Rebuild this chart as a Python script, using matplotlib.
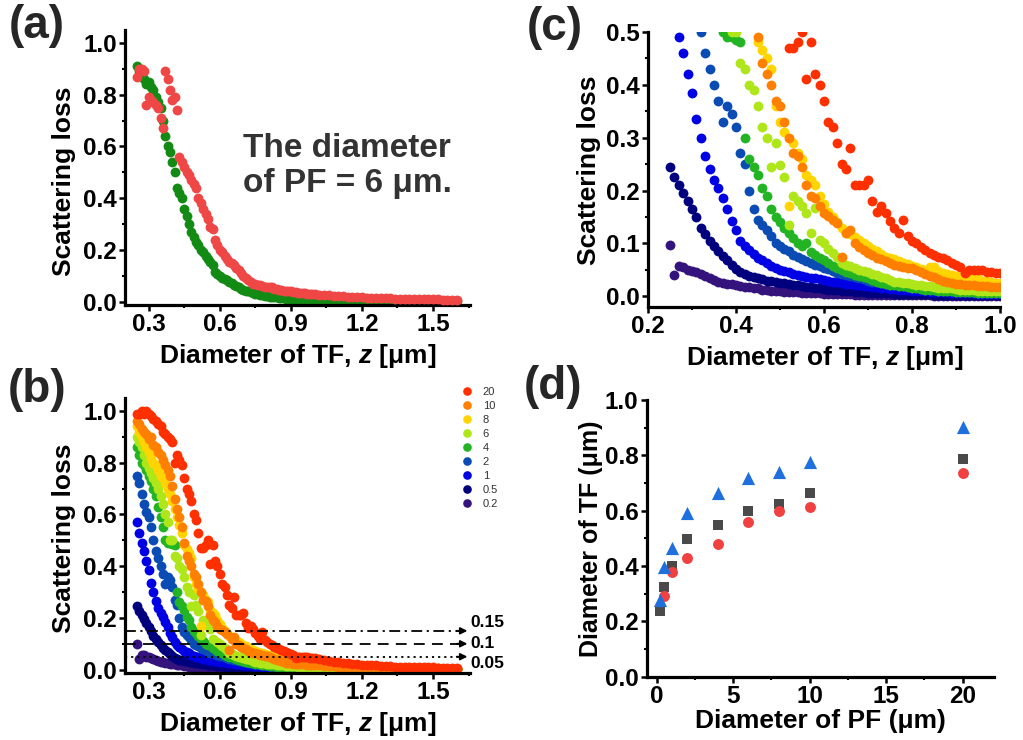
import matplotlib
matplotlib.use('Agg')
import matplotlib.pyplot as plt
from matplotlib.ticker import MultipleLocator
from matplotlib.lines import Line2D

plt.rcParams['font.family'] = ['Liberation Sans', 'DejaVu Sans']
plt.rcParams['font.weight'] = 'bold'
plt.rcParams['mathtext.fontset'] = 'custom'
plt.rcParams['mathtext.it'] = 'Liberation Sans:italic'
plt.rcParams['mathtext.rm'] = 'Liberation Sans:bold'
plt.rcParams['mathtext.bf'] = 'Liberation Sans:bold'

# ---------------- data ----------------
# diameter of TF, z [um]
X = [0.25, 0.26, 0.27, 0.28, 0.29, 0.30, 0.31, 0.32, 0.33, 0.34,
     0.35, 0.36, 0.37, 0.38, 0.39, 0.40, 0.41, 0.42, 0.43, 0.44,
     0.45, 0.46, 0.47, 0.48, 0.49, 0.50, 0.51, 0.52, 0.53, 0.54,
     0.55, 0.56, 0.57, 0.58, 0.59, 0.60, 0.61, 0.62, 0.63, 0.64,
     0.65, 0.66, 0.67, 0.68, 0.69, 0.70, 0.71, 0.72, 0.73, 0.74,
     0.75, 0.76, 0.77, 0.78, 0.79, 0.80, 0.81, 0.82, 0.83, 0.84,
     0.85, 0.86, 0.87, 0.88, 0.89, 0.90, 0.91, 0.92, 0.93, 0.94,
     0.95, 0.96, 0.97, 0.98, 0.99, 1.00,
     1.02, 1.04, 1.06, 1.08, 1.10, 1.12, 1.14, 1.16, 1.18, 1.20,
     1.22, 1.24, 1.26, 1.28, 1.30, 1.32, 1.34, 1.36, 1.38, 1.40,
     1.42, 1.44, 1.46, 1.48, 1.50, 1.52, 1.54, 1.56, 1.58, 1.60]

# panel (a): PF = 6 um, two curves
A_GREEN = [0.91, 0.89, 0.88, 0.86, 0.84, 0.85, 0.83, 0.82, 0.79, 0.77,
           0.75, 0.70, 0.64, 0.60, 0.58, 0.54, 0.50, 0.44, 0.42, 0.40,
           0.36, 0.33, 0.30, 0.27, 0.25, 0.23, 0.22, 0.20, 0.19, 0.175,
           0.165, 0.155, 0.14, 0.115, 0.105, 0.100, 0.093, 0.088, 0.082, 0.076,
           0.071, 0.065, 0.060, 0.055, 0.050, 0.046, 0.043, 0.040, 0.036, 0.033,
           0.030, 0.028, 0.026, 0.024, 0.022, 0.020, 0.019, 0.018, 0.017, 0.016,
           0.015, 0.014, 0.013, 0.012, 0.011, 0.010, 0.010, 0.009, 0.009, 0.008,
           0.008, 0.007, 0.007, 0.007, 0.006, 0.006,
           0.006, 0.005, 0.005, 0.005, 0.004, 0.004, 0.004, 0.004, 0.003, 0.003,
           0.003, 0.003, 0.003, 0.003, 0.003, 0.002, 0.002, 0.002, 0.002, 0.002,
           0.002, 0.002, 0.002, 0.002, 0.002, 0.001, 0.001, 0.001, 0.001, 0.001]
A_RED = [0.87, 0.90, 0.90, 0.89, 0.76, 0.79, 0.78, 0.77, 0.76, 0.75,
         0.71, 0.67, 0.89, 0.86, 0.82, 0.78, 0.79, 0.74, 0.56, 0.54,
         0.52, 0.50, 0.49, 0.47, 0.455, 0.44, 0.40, 0.38, 0.36, 0.34,
         0.32, 0.29, 0.28, 0.24, 0.22, 0.20, 0.19, 0.175, 0.165, 0.155,
         0.15, 0.14, 0.13, 0.123, 0.11, 0.10, 0.09, 0.085, 0.075, 0.07,
         0.068, 0.065, 0.063, 0.060, 0.058, 0.056, 0.055, 0.055, 0.050, 0.048,
         0.046, 0.045, 0.043, 0.042, 0.041, 0.040, 0.038, 0.036, 0.034, 0.033,
         0.032, 0.032, 0.031, 0.030, 0.029, 0.028,
         0.026, 0.025, 0.024, 0.022, 0.021, 0.020, 0.019, 0.018, 0.017, 0.016,
         0.015, 0.015, 0.014, 0.014, 0.013, 0.013, 0.012, 0.012, 0.011, 0.011,
         0.010, 0.010, 0.010, 0.009, 0.009, 0.009, 0.008, 0.008, 0.008, 0.008]

# panels (b), (c): one curve per PF diameter
Y20 = [0.99, 0.99, 1.00, 0.99, 1.00, 0.99, 0.98, 0.97, 0.96, 0.95,
       0.94, 0.92, 0.91, 0.90, 0.89, 0.88, 0.80, 0.83, 0.81, 0.79,
       0.74, 0.70, 0.68, 0.65, 0.60, 0.58, 0.53, 0.47, 0.47, 0.48,
       0.50, 0.41, 0.48, 0.42, 0.40, 0.37, 0.33, 0.32, 0.29, 0.25,
       0.24, 0.28, 0.21, 0.21, 0.21, 0.22, 0.18, 0.16, 0.17, 0.157,
       0.142, 0.13, 0.12, 0.145, 0.115, 0.105, 0.10, 0.094, 0.088, 0.082,
       0.078, 0.075, 0.073, 0.068, 0.063, 0.060, 0.055, 0.044, 0.050, 0.050,
       0.049, 0.050, 0.047, 0.046, 0.045, 0.044,
       0.040, 0.037, 0.034, 0.031, 0.029, 0.027, 0.025, 0.023, 0.021, 0.019,
       0.018, 0.017, 0.016, 0.015, 0.014, 0.013, 0.012, 0.012, 0.011, 0.011,
       0.010, 0.010, 0.009, 0.009, 0.009, 0.008, 0.008, 0.008, 0.007, 0.007]
Y10 = [0.96, 0.95, 0.93, 0.92, 0.91, 0.89, 0.90, 0.87, 0.86, 0.84,
       0.83, 0.81, 0.79, 0.77, 0.75, 0.71, 0.66, 0.62, 0.59, 0.55,
       0.49, 0.44, 0.42, 0.40, 0.37, 0.36, 0.33, 0.30, 0.27, 0.265,
       0.245, 0.21, 0.19, 0.185, 0.17, 0.157, 0.152, 0.145, 0.139, 0.075,
       0.12, 0.126, 0.10, 0.094, 0.088, 0.082, 0.078, 0.072, 0.070, 0.066,
       0.063, 0.060, 0.057, 0.056, 0.054, 0.053, 0.050, 0.046, 0.042, 0.038,
       0.036, 0.033, 0.030, 0.027, 0.025, 0.024, 0.023, 0.022, 0.022, 0.021,
       0.020, 0.020, 0.019, 0.018, 0.018, 0.017,
       0.016, 0.015, 0.014, 0.013, 0.012, 0.011, 0.011, 0.010, 0.010, 0.009,
       0.009, 0.008, 0.008, 0.008, 0.007, 0.007, 0.007, 0.006, 0.006, 0.006,
       0.006, 0.005, 0.005, 0.005, 0.005, 0.005, 0.004, 0.004, 0.004, 0.004]
Y8 = [0.94, 0.92, 0.90, 0.88, 0.86, 0.84, 0.82, 0.80, 0.79, 0.77,
      0.75, 0.74, 0.72, 0.70, 0.68, 0.65, 0.62, 0.59, 0.56, 0.53,
      0.48, 0.465, 0.45, 0.43, 0.36, 0.33, 0.31, 0.17, 0.29, 0.27,
      0.26, 0.23, 0.22, 0.21, 0.19, 0.175, 0.16, 0.15, 0.14, 0.13,
      0.12, 0.117, 0.112, 0.107, 0.100, 0.095, 0.090, 0.085, 0.080, 0.075,
      0.072, 0.070, 0.066, 0.064, 0.062, 0.058, 0.055, 0.052, 0.050, 0.055,
      0.056, 0.048, 0.045, 0.042, 0.040, 0.038, 0.037, 0.036, 0.034, 0.033,
      0.032, 0.030, 0.029, 0.027, 0.026, 0.025,
      0.023, 0.021, 0.019, 0.017, 0.016, 0.015, 0.014, 0.013, 0.012, 0.011,
      0.010, 0.010, 0.009, 0.009, 0.008, 0.008, 0.007, 0.007, 0.007, 0.006,
      0.006, 0.006, 0.005, 0.005, 0.005, 0.005, 0.004, 0.004, 0.004, 0.004]
Y6 = [0.90, 0.88, 0.86, 0.83, 0.80, 0.78, 0.76, 0.74, 0.72, 0.70,
      0.67, 0.64, 0.60, 0.57, 0.50, 0.50, 0.44, 0.43, 0.40, 0.39,
      0.36, 0.32, 0.30, 0.245, 0.29, 0.248, 0.226, 0.135, 0.19, 0.18,
      0.17, 0.157, 0.12, 0.167, 0.107, 0.100, 0.090, 0.082, 0.075, 0.063,
      0.060, 0.057, 0.053, 0.050, 0.048, 0.046, 0.043, 0.040, 0.037, 0.034,
      0.031, 0.028, 0.027, 0.026, 0.025, 0.023, 0.022, 0.021, 0.020, 0.019,
      0.017, 0.016, 0.016, 0.015, 0.015, 0.014, 0.013, 0.013, 0.012, 0.012,
      0.011, 0.011, 0.011, 0.010, 0.010, 0.010,
      0.009, 0.009, 0.008, 0.008, 0.007, 0.007, 0.006, 0.006, 0.006, 0.005,
      0.005, 0.005, 0.004, 0.004, 0.004, 0.004, 0.003, 0.003, 0.003, 0.003,
      0.003, 0.003, 0.002, 0.002, 0.002, 0.002, 0.002, 0.002, 0.002, 0.002]
Y4 = [0.86, 0.83, 0.80, 0.79, 0.77, 0.75, 0.73, 0.70, 0.67, 0.63,
      0.59, 0.55, 0.50, 0.49, 0.49, 0.485, 0.48, 0.30, 0.26, 0.245,
      0.23, 0.205, 0.19, 0.165, 0.15, 0.14, 0.13, 0.12, 0.11, 0.10,
      0.095, 0.10, 0.083, 0.078, 0.072, 0.068, 0.063, 0.058, 0.054, 0.050,
      0.047, 0.044, 0.041, 0.039, 0.037, 0.034, 0.031, 0.028, 0.026, 0.024,
      0.022, 0.021, 0.020, 0.019, 0.018, 0.016, 0.015, 0.014, 0.013, 0.012,
      0.012, 0.011, 0.011, 0.010, 0.010, 0.009, 0.009, 0.008, 0.008, 0.008,
      0.007, 0.007, 0.007, 0.006, 0.006, 0.006,
      0.006, 0.005, 0.005, 0.005, 0.004, 0.004, 0.004, 0.004, 0.003, 0.003,
      0.003, 0.003, 0.003, 0.003, 0.002, 0.002, 0.002, 0.002, 0.002, 0.002,
      0.002, 0.002, 0.002, 0.002, 0.001, 0.001, 0.001, 0.001, 0.001, 0.001]
Y2 = [0.75, 0.72, 0.68, 0.64, 0.61, 0.59, 0.55, 0.50, 0.46, 0.43,
      0.40, 0.37, 0.33, 0.36, 0.345, 0.32, 0.27, 0.25, 0.20, 0.165,
      0.145, 0.135, 0.125, 0.115, 0.100, 0.095, 0.090, 0.085, 0.079, 0.075,
      0.070, 0.066, 0.063, 0.060, 0.057, 0.054, 0.051, 0.048, 0.045, 0.043,
      0.040, 0.038, 0.036, 0.034, 0.032, 0.030, 0.028, 0.027, 0.025, 0.024,
      0.022, 0.021, 0.020, 0.019, 0.018, 0.016, 0.015, 0.014, 0.013, 0.012,
      0.012, 0.011, 0.011, 0.010, 0.010, 0.009, 0.009, 0.008, 0.008, 0.007,
      0.007, 0.007, 0.006, 0.006, 0.006, 0.006,
      0.005, 0.005, 0.005, 0.004, 0.004, 0.004, 0.003, 0.003, 0.003, 0.003,
      0.003, 0.002, 0.002, 0.002, 0.002, 0.002, 0.002, 0.002, 0.001, 0.001,
      0.001, 0.001, 0.001, 0.001, 0.001, 0.001, 0.001, 0.001, 0.001, 0.001]
Y1 = [0.57, 0.53, 0.49, 0.46, 0.42, 0.385, 0.335, 0.30, 0.265, 0.24,
      0.22, 0.205, 0.185, 0.165, 0.142, 0.125, 0.105, 0.095, 0.088, 0.080,
      0.073, 0.068, 0.063, 0.058, 0.054, 0.050, 0.048, 0.046, 0.043, 0.041,
      0.039, 0.037, 0.035, 0.034, 0.032, 0.031, 0.029, 0.028, 0.027, 0.026,
      0.024, 0.023, 0.022, 0.021, 0.020, 0.019, 0.018, 0.017, 0.016, 0.015,
      0.014, 0.014, 0.013, 0.012, 0.012, 0.011, 0.011, 0.010, 0.010, 0.009,
      0.009, 0.008, 0.008, 0.008, 0.007, 0.007, 0.007, 0.006, 0.006, 0.006,
      0.005, 0.005, 0.005, 0.005, 0.004, 0.004,
      0.004, 0.004, 0.003, 0.003, 0.003, 0.003, 0.002, 0.002, 0.002, 0.002,
      0.002, 0.002, 0.002, 0.001, 0.001, 0.001, 0.001, 0.001, 0.001, 0.001,
      0.001, 0.001, 0.001, 0.001, 0.001, 0.001, 0.001, 0.001, 0.001, 0.001]
Y05 = [0.245, 0.225, 0.21, 0.195, 0.18, 0.165, 0.15, 0.13, 0.117, 0.105,
       0.095, 0.085, 0.077, 0.069, 0.060, 0.052, 0.046, 0.042, 0.038, 0.036,
       0.034, 0.032, 0.030, 0.029, 0.027, 0.026, 0.025, 0.023, 0.022, 0.021,
       0.019, 0.018, 0.017, 0.016, 0.015, 0.014, 0.013, 0.012, 0.012, 0.011,
       0.010, 0.010, 0.009, 0.009, 0.008, 0.007, 0.007, 0.007, 0.006, 0.006,
       0.006, 0.005, 0.005, 0.005, 0.005, 0.004, 0.004, 0.004, 0.004, 0.004,
       0.003, 0.003, 0.003, 0.003, 0.003, 0.003, 0.003, 0.003, 0.003, 0.003,
       0.002, 0.002, 0.002, 0.002, 0.002, 0.002,
       0.002, 0.002, 0.002, 0.002, 0.002, 0.002, 0.002, 0.002, 0.002, 0.002,
       0.001, 0.001, 0.001, 0.001, 0.001, 0.001, 0.001, 0.001, 0.001, 0.001,
       0.001, 0.001, 0.001, 0.001, 0.001, 0.001, 0.001, 0.001, 0.001, 0.001]
Y02 = [0.098, 0.041, 0.057, 0.055, 0.050, 0.048, 0.046, 0.042, 0.038, 0.034,
       0.031, 0.028, 0.026, 0.024, 0.023, 0.021, 0.020, 0.018, 0.017, 0.016,
       0.015, 0.013, 0.012, 0.011, 0.011, 0.010, 0.009, 0.009, 0.008, 0.008,
       0.007, 0.007, 0.006, 0.006, 0.006, 0.005, 0.005, 0.005, 0.004, 0.004,
       0.004, 0.004, 0.003, 0.003, 0.003, 0.003, 0.003, 0.003, 0.002, 0.002,
       0.002, 0.002, 0.002, 0.002, 0.002, 0.002, 0.002, 0.002, 0.002, 0.002,
       0.001, 0.001, 0.001, 0.001, 0.001, 0.001, 0.001, 0.001, 0.001, 0.001,
       0.001, 0.001, 0.001, 0.001, 0.001, 0.001,
       0.001, 0.001, 0.001, 0.001, 0.001, 0.001, 0.001, 0.001, 0.001, 0.001,
       0.001, 0.001, 0.001, 0.001, 0.001, 0.001, 0.001, 0.001, 0.001, 0.001,
       0.001, 0.001, 0.001, 0.001, 0.001, 0.001, 0.001, 0.001, 0.001, 0.001]

PF_LABELS = ['0.2', '0.5', '1', '2', '4', '6', '8', '10', '20']
PF_SERIES = [Y02, Y05, Y1, Y2, Y4, Y6, Y8, Y10, Y20]
PF_COLORS = ['#35137d', '#00007f', '#0000e4', '#0a4bb4', '#22b422',
             '#aee61a', '#ffd400', '#ff8000', '#ff3000']

# threshold lines in (b)
THRESH = [0.15, 0.1, 0.05]
THRESH_LABELS = ['0.15', '0.1', '0.05']

# panel (d)
PF_D = [0.2, 0.5, 1, 2, 4, 6, 8, 10, 20]
TF_TRI = [0.277, 0.398, 0.464, 0.590, 0.665, 0.717, 0.741, 0.777, 0.904]
TF_SQ = [0.239, 0.323, 0.400, 0.498, 0.548, 0.599, 0.624, 0.663, 0.787]
PF_CIRC = [0.5, 1, 2, 4, 6, 8, 10, 20]
TF_CIRC = [0.292, 0.380, 0.430, 0.480, 0.560, 0.599, 0.612, 0.737]

# ---------------- figure ----------------
W, H = 1023, 740
fig = plt.figure(figsize=(W / 100, H / 100), dpi=100)


def px_axes(l, t, r, b):
    return fig.add_axes([l / W, 1 - b / H, (r - l) / W, (b - t) / H])


ax_a = px_axes(125, 30, 470, 305)
ax_b = px_axes(125, 398, 470, 673)
ax_c = px_axes(648, 31.7, 1000, 307)
ax_d = px_axes(646.7, 400, 994, 676.7)

XLAB = r'Diameter of TF, $\mathit{z}$ [μm]'
LFS = 19     # axis label size
TFS = 17.5   # tick label size


def style(ax):
    for s in ['top', 'right']:
        ax.spines[s].set_visible(False)
    for s in ['left', 'bottom']:
        ax.spines[s].set_linewidth(2.3)
    ax.tick_params(which='major', direction='out', length=4, width=1.8,
                   labelsize=TFS, pad=2)
    ax.tick_params(which='minor', direction='out', length=2.5, width=1.5)


MS = 50

# (a)
style(ax_a)
ax_a.scatter(X, A_GREEN, s=MS, c='#138a13', linewidths=0, zorder=2)
ax_a.scatter(X, A_RED, s=MS, c='#ef4646', linewidths=0, zorder=3)
ax_a.set_xlim(0.2, 1.656)
ax_a.set_ylim(-0.013, 1.05)
ax_a.xaxis.set_major_locator(MultipleLocator(0.3))
ax_a.xaxis.set_minor_locator(MultipleLocator(0.15))
ax_a.yaxis.set_major_locator(MultipleLocator(0.2))
ax_a.yaxis.set_minor_locator(MultipleLocator(0.1))
ax_a.set_ylabel('Scattering loss', fontsize=LFS, fontweight='bold')
ax_a.set_xlabel(XLAB, fontsize=LFS, fontweight='bold')
ax_a.yaxis.set_label_coords(-0.142, 0.45)
ax_a.xaxis.set_label_coords(0.5, -0.135)
fig.text(243 / W, 1 - 166 / H, 'The diameter\nof PF = 6 μm.', fontsize=24,
         fontweight='bold', color='#333333', ha='left', va='center',
         linespacing=1.2)

# (b)
style(ax_b)
handles = []
for ys, col, lab in zip(PF_SERIES, PF_COLORS, PF_LABELS):
    ax_b.scatter(X, ys, s=MS, c=col, linewidths=0)
    handles.append(Line2D([], [], ls='', marker='o', ms=6.2, color=col,
                          mec='none', label=lab))
ax_b.set_xlim(0.2, 1.656)
ax_b.set_ylim(-0.013, 1.05)
ax_b.xaxis.set_major_locator(MultipleLocator(0.3))
ax_b.xaxis.set_minor_locator(MultipleLocator(0.15))
ax_b.yaxis.set_major_locator(MultipleLocator(0.2))
ax_b.yaxis.set_minor_locator(MultipleLocator(0.1))
ax_b.set_ylabel('Scattering loss', fontsize=LFS, fontweight='bold')
ax_b.set_xlabel(XLAB, fontsize=LFS, fontweight='bold')
ax_b.yaxis.set_label_coords(-0.142, 0.489)
ax_b.xaxis.set_label_coords(0.5, -0.135)
leg = ax_b.legend(handles=handles[::-1], loc='upper left',
                  bbox_to_anchor=(461.5 / W, 1 - 386.5 / H),
                  bbox_transform=fig.transFigure, frameon=False,
                  prop={'size': 8, 'weight': 'normal'}, labelspacing=0.36,
                  handletextpad=0.9, handlelength=1.0, borderpad=0,
                  borderaxespad=0, labelcolor='#333333')
styles = [(0, (6, 2.5, 1.2, 2.5)), (0, (6, 4)), (0, (1.2, 2.2))]
label_y = [0.181, 0.10, 0.025]
for yv, ls, lab, ly in zip(THRESH, styles, THRESH_LABELS, label_y):
    ax_b.plot([0.2, 1.62], [yv, yv], color='black', lw=1.3, ls=ls,
              zorder=5, clip_on=False)
    ax_b.annotate('', xy=(1.645, yv), xytext=(1.60, yv),
                  arrowprops=dict(arrowstyle='-|>', color='black', lw=1.3,
                                  shrinkA=0, shrinkB=0, mutation_scale=10),
                  zorder=5, annotation_clip=False)
    ax_b.text(1.656, ly, lab, fontsize=12.5, fontweight='bold', ha='left',
              va='center', clip_on=False)

# (c)
style(ax_c)
for ys, col in zip(PF_SERIES, PF_COLORS):
    ax_c.scatter(X, ys, s=MS, c=col, linewidths=0)
ax_c.set_xlim(0.2, 1.0)
ax_c.set_ylim(-0.02, 0.5)
ax_c.xaxis.set_major_locator(MultipleLocator(0.2))
ax_c.xaxis.set_minor_locator(MultipleLocator(0.1))
ax_c.yaxis.set_major_locator(MultipleLocator(0.1))
ax_c.yaxis.set_minor_locator(MultipleLocator(0.05))
ax_c.set_ylabel('Scattering loss', fontsize=LFS, fontweight='bold')
ax_c.set_xlabel(XLAB, fontsize=LFS, fontweight='bold')
ax_c.yaxis.set_label_coords(-0.134, 0.497)
ax_c.xaxis.set_label_coords(0.503, -0.135)

# (d)
style(ax_d)
ax_d.scatter(PF_D, TF_SQ, s=50, marker='s', c='#4a4a4a', linewidths=0, zorder=3)
ax_d.scatter(PF_CIRC, TF_CIRC, s=62, marker='o', c='#f04040', linewidths=0, zorder=4)
ax_d.scatter(PF_D, TF_TRI, s=90, marker='^', c='#1f6fdc', linewidths=0, zorder=5)
ax_d.set_xlim(-0.65, 22.05)
ax_d.set_ylim(0, 1.0)
ax_d.xaxis.set_major_locator(MultipleLocator(5))
ax_d.xaxis.set_minor_locator(MultipleLocator(2.5))
ax_d.yaxis.set_major_locator(MultipleLocator(0.2))
ax_d.yaxis.set_minor_locator(MultipleLocator(0.1))
ax_d.set_ylabel('Diameter of TF (μm)', fontsize=18, fontweight='bold')
ax_d.set_xlabel('Diameter of PF (μm)', fontsize=LFS, fontweight='bold')
ax_d.yaxis.set_label_coords(-0.126, 0.497)
ax_d.xaxis.set_label_coords(0.501, -0.118)

# panel letters
for lab, (px, py) in zip(['(a)', '(b)', '(c)', '(d)'],
                         [(37, 26), (37, 390), (555, 28), (553, 387)]):
    fig.text(px / W, 1 - py / H, lab, fontsize=33, fontweight='bold',
             color='#262626', ha='center', va='center')

fig.savefig('out.png', dpi=100)
